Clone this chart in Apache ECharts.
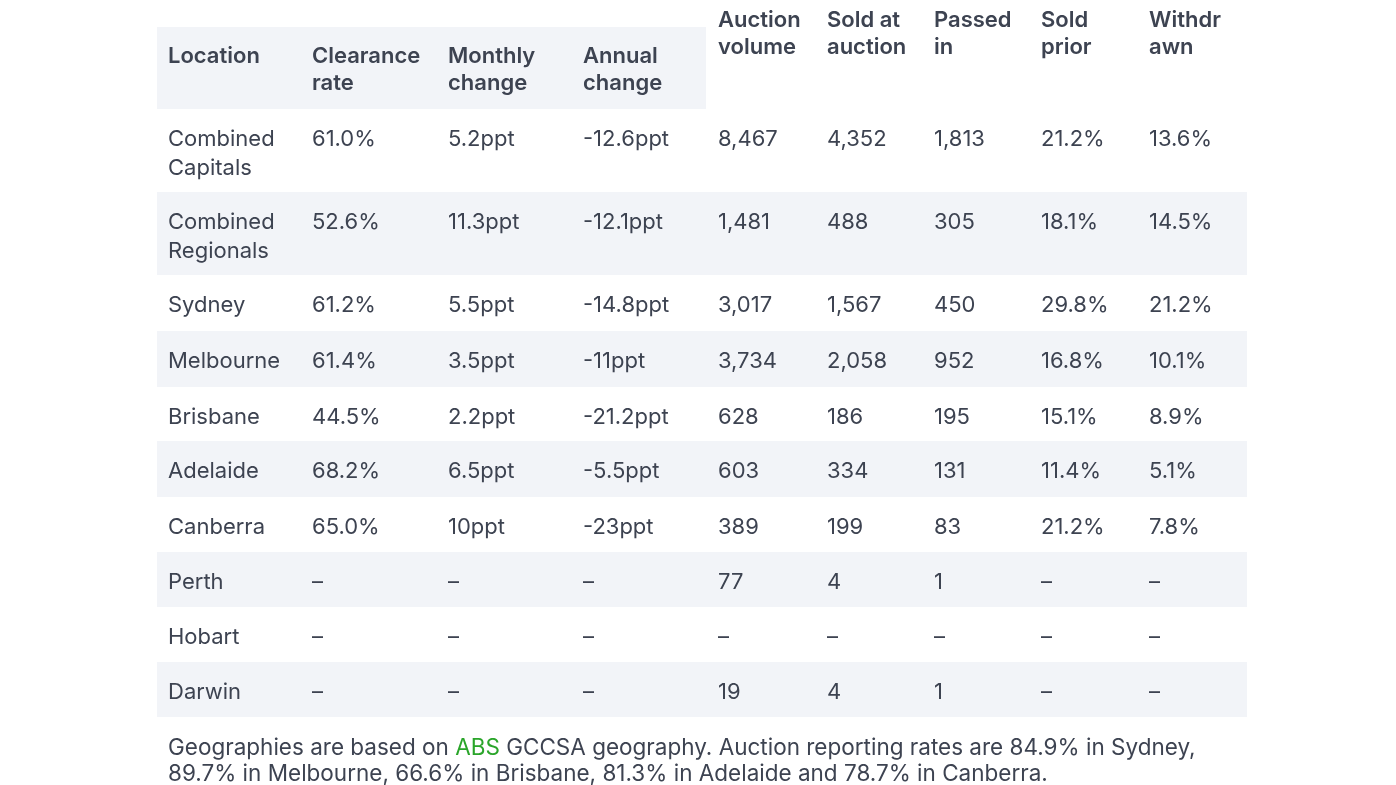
<!DOCTYPE html>
<html>
<head>
<meta charset="utf-8">
<script src="https://cdn.jsdelivr.net/npm/echarts@6/dist/echarts.min.js"></script>
<style>html,body{margin:0;padding:0;background:#fff}#c{width:1396px;height:785px}</style>
</head>
<body>
<div id="c"></div>
<script>
// ---- data ----
const headers = ['Location', 'Clearance\nrate', 'Monthly\nchange', 'Annual\nchange', 'Auction\nvolume', 'Sold at\nauction', 'Passed\nin', 'Sold\nprior', 'Withdr\nawn'];
const locations = ['Combined\nCapitals', 'Combined\nRegionals', 'Sydney', 'Melbourne', 'Brisbane', 'Adelaide', 'Canberra', 'Perth', 'Hobart', 'Darwin'];
const clearanceRate = [61.0, 52.6, 61.2, 61.4, 44.5, 68.2, 65.0, null, null, null];
const monthlyChange = [5.2, 11.3, 5.5, 3.5, 2.2, 6.5, 10, null, null, null];
const annualChange = [-12.6, -12.1, -14.8, -11, -21.2, -5.5, -23, null, null, null];
const auctionVolume = [8467, 1481, 3017, 3734, 628, 603, 389, 77, null, 19];
const soldAtAuction = [4352, 488, 1567, 2058, 186, 334, 199, 4, null, 4];
const passedIn = [1813, 305, 450, 952, 195, 131, 83, 1, null, 1];
const soldPrior = [21.2, 18.1, 29.8, 16.8, 15.1, 11.4, 21.2, null, null, null];
const withdrawn = [13.6, 14.5, 21.2, 10.1, 8.9, 5.1, 7.8, null, null, null];
const footnoteLines = [
  'Geographies are based on {g|ABS} GCCSA geography. Auction reporting rates are 84.9% in Sydney,',
  '89.7% in Melbourne, 66.6% in Brisbane, 81.3% in Adelaide and 78.7% in Canberra.'
];

// ---- layout ----
const colLeft = [157, 301, 437, 572, 707, 816, 923, 1030, 1138];
const tableRight = 1247;
const pad = 11;
const headerTop = 27, headerBottom = 109, grayHeaderRight = 706;
const rowBottoms = [192, 275, 331, 387, 441, 497, 552, 607, 662, 717];
const FONT = 'Inter, "Noto Sans", sans-serif';
const FS = 22;
const FS_NOTE = 22.5;
const TEXT = '#3d4351';
const GRAY = '#f2f4f8';

const DASH = '\u2013';
const pct = v => v == null ? DASH : v.toFixed(1) + '%';
const ppt = v => v == null ? DASH : String(v) + 'ppt';
const num = v => v == null ? DASH : v.toLocaleString('en-US');

const columns = [
  locations.map(s => s),
  clearanceRate.map(pct),
  monthlyChange.map(ppt),
  annualChange.map(ppt),
  auctionVolume.map(num),
  soldAtAuction.map(num),
  passedIn.map(num),
  soldPrior.map(pct),
  withdrawn.map(pct)
];

const rowTop = r => r === 0 ? headerBottom : rowBottoms[r - 1];

const cellData = [];
columns.forEach((col, c) => col.forEach((t, r) => cellData.push([c, r, t])));
const headerData = headers.map((h, c) => [c]);
const bandData = rowBottoms.map((b, r) => [r]);

const chart = echarts.init(document.getElementById('c'), null, {renderer: 'canvas'});
chart.setOption({
  backgroundColor: '#fff',
  animation: false,
  grid: {left: 0, right: 0, top: 0, bottom: 0},
  xAxis: {type: 'value', min: 0, max: 1396, show: false},
  yAxis: {type: 'value', min: 0, max: 785, inverse: true, show: false},
  title: {
    left: 168, top: 735, padding: 0,
    text: footnoteLines.join('\n'),
    textStyle: {
      fontFamily: FONT, fontSize: FS_NOTE, fontWeight: 'normal', color: TEXT, lineHeight: 26,
      rich: {g: {color: '#2aa52a', fontFamily: FONT, fontSize: FS_NOTE, lineHeight: 26}}
    }
  },
  series: [
    { // alternating row bands
      type: 'custom', silent: true,
      data: bandData,
      renderItem: (params, api) => {
        const r = api.value(0);
        if (r % 2 === 0) return null;
        const p0 = api.coord([colLeft[0], rowTop(r)]);
        const p1 = api.coord([tableRight, rowBottoms[r]]);
        return {type: 'rect', shape: {x: p0[0], y: p0[1], width: p1[0] - p0[0], height: p1[1] - p0[1]}, style: {fill: GRAY}};
      }
    },
    { // header band
      type: 'custom', silent: true,
      data: [[0]],
      renderItem: (params, api) => {
        const p0 = api.coord([colLeft[0], headerTop]);
        const p1 = api.coord([grayHeaderRight, headerBottom]);
        return {type: 'rect', shape: {x: p0[0], y: p0[1], width: p1[0] - p0[0], height: p1[1] - p0[1]}, style: {fill: GRAY}};
      }
    },
    { // header texts
      type: 'custom', silent: true,
      data: headerData,
      renderItem: (params, api) => {
        const c = params.dataIndex;
        const firstCenter = c < 4 ? headerTop + 29 : headerTop - 7;
        const p = api.coord([colLeft[c] + pad, firstCenter - 13.5]);
        return {type: 'text', style: {text: headers[c], x: p[0], y: p[1], fill: TEXT,
          font: '600 ' + FS + 'px ' + FONT, lineHeight: 27, verticalAlign: 'top', align: 'left'}};
      }
    },
    { // cell texts
      type: 'custom', silent: true,
      data: cellData.map(d => [d[0], d[1]]),
      renderItem: (params, api) => {
        const d = cellData[params.dataIndex];
        const c = d[0], r = d[1];
        const p = api.coord([colLeft[c] + pad, rowTop(r) + 30 - 14.5]);
        return {type: 'text', style: {text: d[2], x: p[0], y: p[1], fill: TEXT,
          font: '400 ' + FS + 'px ' + FONT, lineHeight: 29, verticalAlign: 'top', align: 'left'}};
      }
    }
  ]
});
</script>
</body>
</html>
